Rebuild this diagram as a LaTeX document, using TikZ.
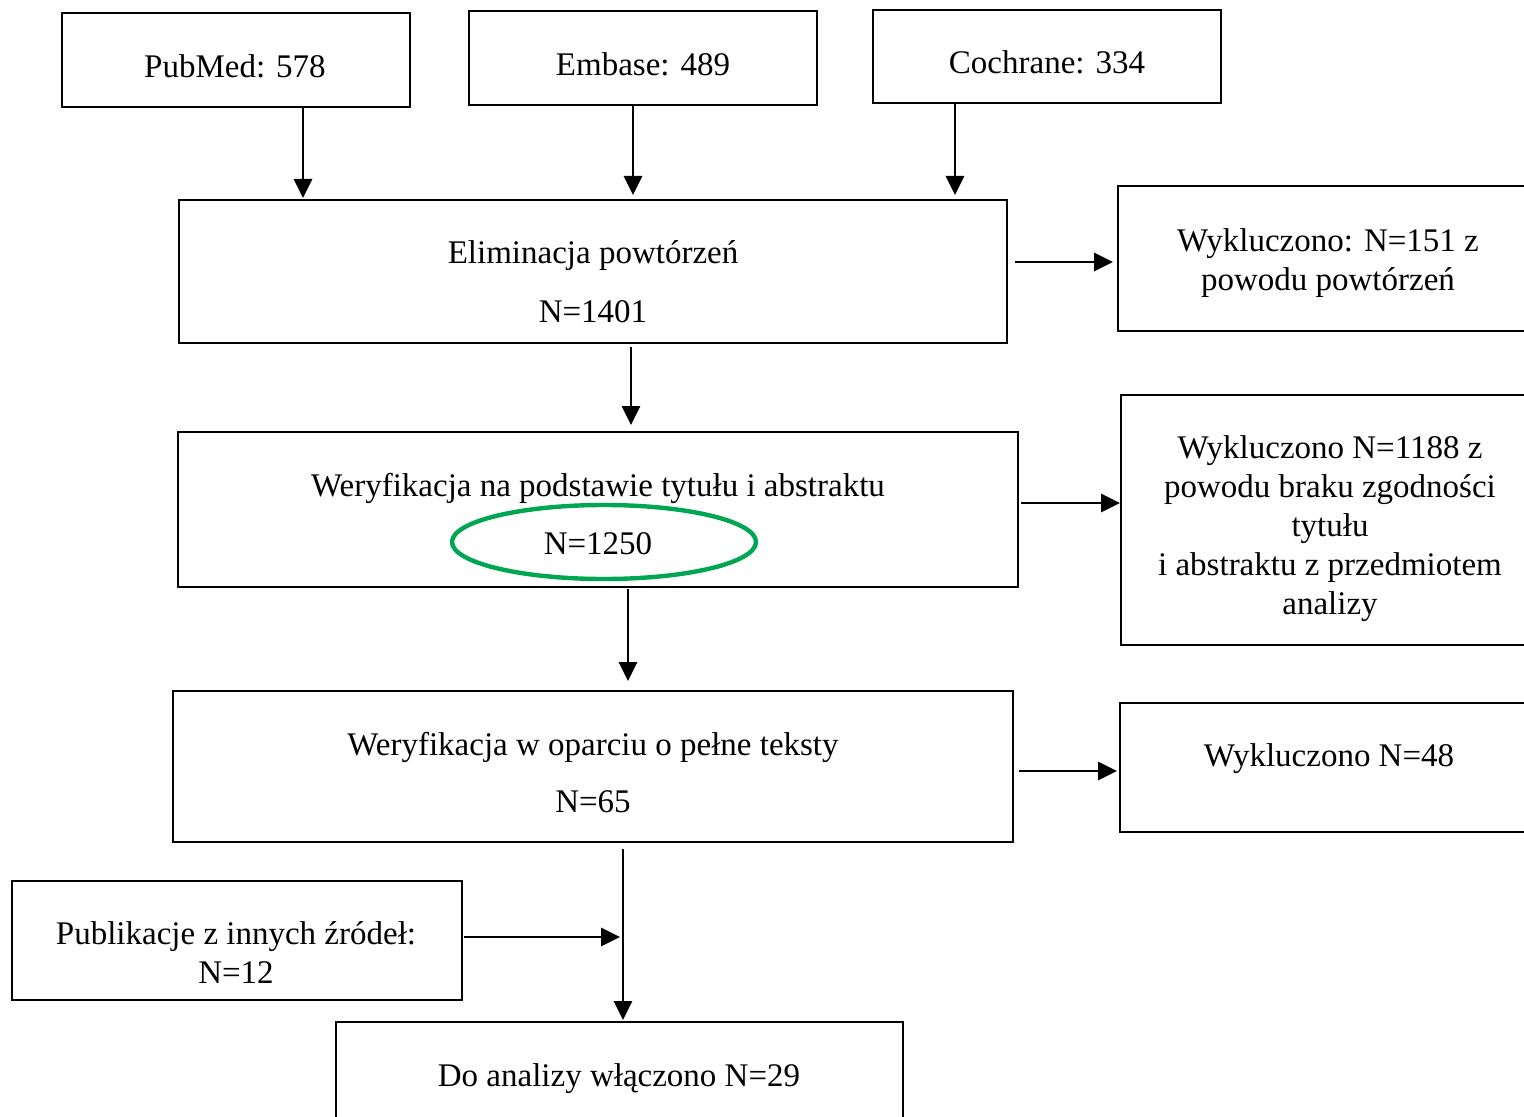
\documentclass[tikz,border=0pt]{standalone}
\usepackage{fontspec}
\setmainfont{Liberation Serif}
\usetikzlibrary{arrows.meta,shapes.geometric}
\definecolor{hlgreen}{RGB}{0,166,81}
\tikzset{
  box/.style={draw=black, line width=1.4pt, inner sep=0pt, outer sep=0pt, fill=none},
  txt/.style={align=center, inner sep=0pt, anchor=north, font=\fontsize{16.5}{19.5}\selectfont},
  arr/.style={line width=1.4pt, -{Triangle[length=9.5pt,width=9pt]}},
  hl/.style={ellipse, draw=hlgreen, line width=2.2pt, inner sep=0pt, minimum width=152pt, minimum height=37pt}
}
\begin{document}
\begin{tikzpicture}[x=0.5pt,y=-0.5pt]
\useasboundingbox (0,0) rectangle (1524,1117);
\clip (0,0) rectangle (1524,1117);
% boxes
\node[box, minimum width=174pt, minimum height=47pt] (pubmed) at (236,60) {};
\node[box, minimum width=174pt, minimum height=47pt] (embase) at (643,58) {};
\node[box, minimum width=174pt, minimum height=46.5pt] (cochrane) at (1047,56.5) {};
\node[box, minimum width=414pt, minimum height=71.5pt] (elim) at (593,271.5) {};
\node[box, minimum width=210pt, minimum height=72.5pt] (wyk1) at (1328,258.5) {};
\node[box, minimum width=420pt, minimum height=77.5pt] (wer1) at (598,509.5) {};
\node[box, minimum width=209pt, minimum height=125pt] (wyk2) at (1330,520) {};
\node[box, minimum width=420pt, minimum height=75.5pt] (wer2) at (593,766.5) {};
\node[box, minimum width=209pt, minimum height=64.5pt] (wyk3) at (1329,767.5) {};
\node[box, minimum width=225pt, minimum height=59.5pt] (inne) at (237,940.5) {};
\node[box, minimum width=283.5pt, minimum height=53pt] (final) at (619.5,1075) {};
% texts
\node[txt] (pubmedT) at (235,50) {\strut PubMed: 578};
\node[txt] (embaseT) at (643,48) {\strut Embase: 489};
\node[txt] (cochraneT) at (1047,46) {\strut Cochrane: 334};
\node[txt] (elimT) at (593,236) {\strut Eliminacja powtórzeń\\[10pt]\strut N=1401};
\node[txt] (wyk1T) at (1328,224) {\strut Wykluczono: N=151 z\\\strut powodu powtórzeń};
\node[txt] (wer1T) at (598,469) {\strut Weryfikacja na podstawie tytułu i abstraktu\\[9.5pt]\strut N=1250};
\node[txt] (wyk2T) at (1330,431) {\strut Wykluczono N=1188 z\\\strut powodu braku zgodności\\\strut tytułu\\\strut i abstraktu z przedmiotem\\\strut analizy};
\node[txt] (wer2T) at (593,728) {\strut Weryfikacja w oparciu o pełne teksty\\[9pt]\strut N=65};
\node[txt] (wyk3T) at (1329,739) {\strut Wykluczono N=48};
\node[txt] (inneT) at (236,917) {\strut Publikacje z innych źródeł:\\\strut N=12};
\node[txt] (finalT) at (619,1059) {\strut Do analizy włączono N=29};
% highlight
\node[hl] (hlN) at (604,542) {};
% arrows
\coordinate (a1) at ([xshift=33.5pt]pubmed.south);
\coordinate (a2) at ([xshift=-5pt]embase.south);
\coordinate (a3) at ([xshift=-46pt]cochrane.south);
\draw[arr, shorten >=1pt] (a1) -- (a1 |- elim.north);
\draw[arr, shorten >=2.5pt] (a2) -- (a2 |- elim.north);
\draw[arr, shorten >=2.5pt] (a3) -- (a3 |- elim.north);
\coordinate (b1) at ([xshift=19pt]elim.south);
\draw[arr, shorten <=2pt, shorten >=3.5pt] (b1) -- (b1 |- wer1.north);
\coordinate (b2) at ([xshift=15pt]wer1.south);
\draw[arr, shorten <=1pt, shorten >=5pt] (b2) -- (b2 |- wer2.north);
\coordinate (b3) at ([xshift=15pt]wer2.south);
\draw[arr, shorten <=3.5pt, shorten >=1pt] (b3) -- (b3 |- final.north);
\coordinate (r1) at ([yshift=4.75pt]elim.east);
\draw[arr, shorten <=4pt, shorten >=2.5pt] (r1) -- (r1 -| wyk1.west);
\coordinate (r2) at ([yshift=3.25pt]wer1.east);
\draw[arr, shorten <=1.5pt, shorten >=0.5pt] (r2) -- (r2 -| wyk2.west);
\coordinate (r3) at ([yshift=-2.25pt]wer2.east);
\draw[arr, shorten <=3pt, shorten >=1.5pt] (r3) -- (r3 -| wyk3.west);
\coordinate (r4) at ([yshift=1.75pt]inne.east);
\draw[arr, shorten <=1pt, shorten >=1.5pt] (r4) -- (r4 -| b3);
\end{tikzpicture}
\end{document}
